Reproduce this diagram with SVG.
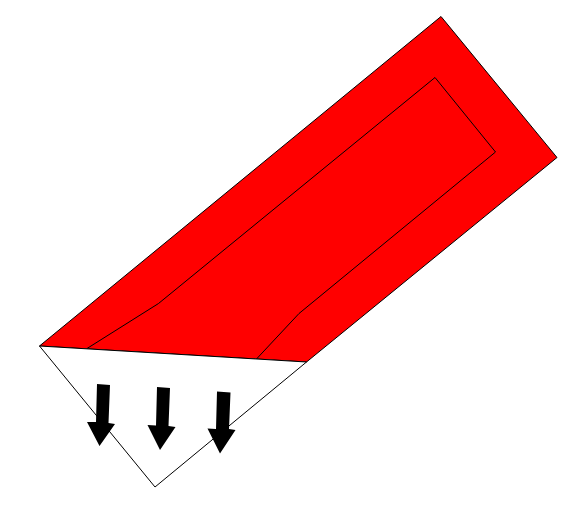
<svg xmlns="http://www.w3.org/2000/svg" width="564" height="509" viewBox="0 0 564 509">
<style>
.ln{stroke:#000;stroke-width:1;stroke-linejoin:miter}
.red{fill:#ff0000}
.arr{fill:#000;stroke:none}
</style>
<rect width="564" height="509" fill="#fff"/>
<g id="outer">
<polygon class="red ln" points="39.5,346 441,16.5 557,157.5 306.5,362"/>
</g>
<g id="inner">
<polyline class="ln" fill="none" points="87,348.5 158.5,303.5 435,77.5 495.5,152 299,313.5 256,359.5"/>
</g>
<g id="triangle">
<polygon class="ln" fill="#fff" points="39.5,346 306.5,362 155,487"/>
</g>
<g id="arrows">
<polygon class="arr" points="97,384 110,385 108.5,423 115,424 99.5,446 87,422 96,422"/>
<polygon class="arr" points="157,387 170,388 168.5,426 175.5,427 160,450 147.5,425 156,425.5"/>
<polygon class="arr" points="217,391.5 230.5,392.5 229,429 235.5,430 220,453.5 207.5,428.5 216,429"/>
</g>
</svg>
